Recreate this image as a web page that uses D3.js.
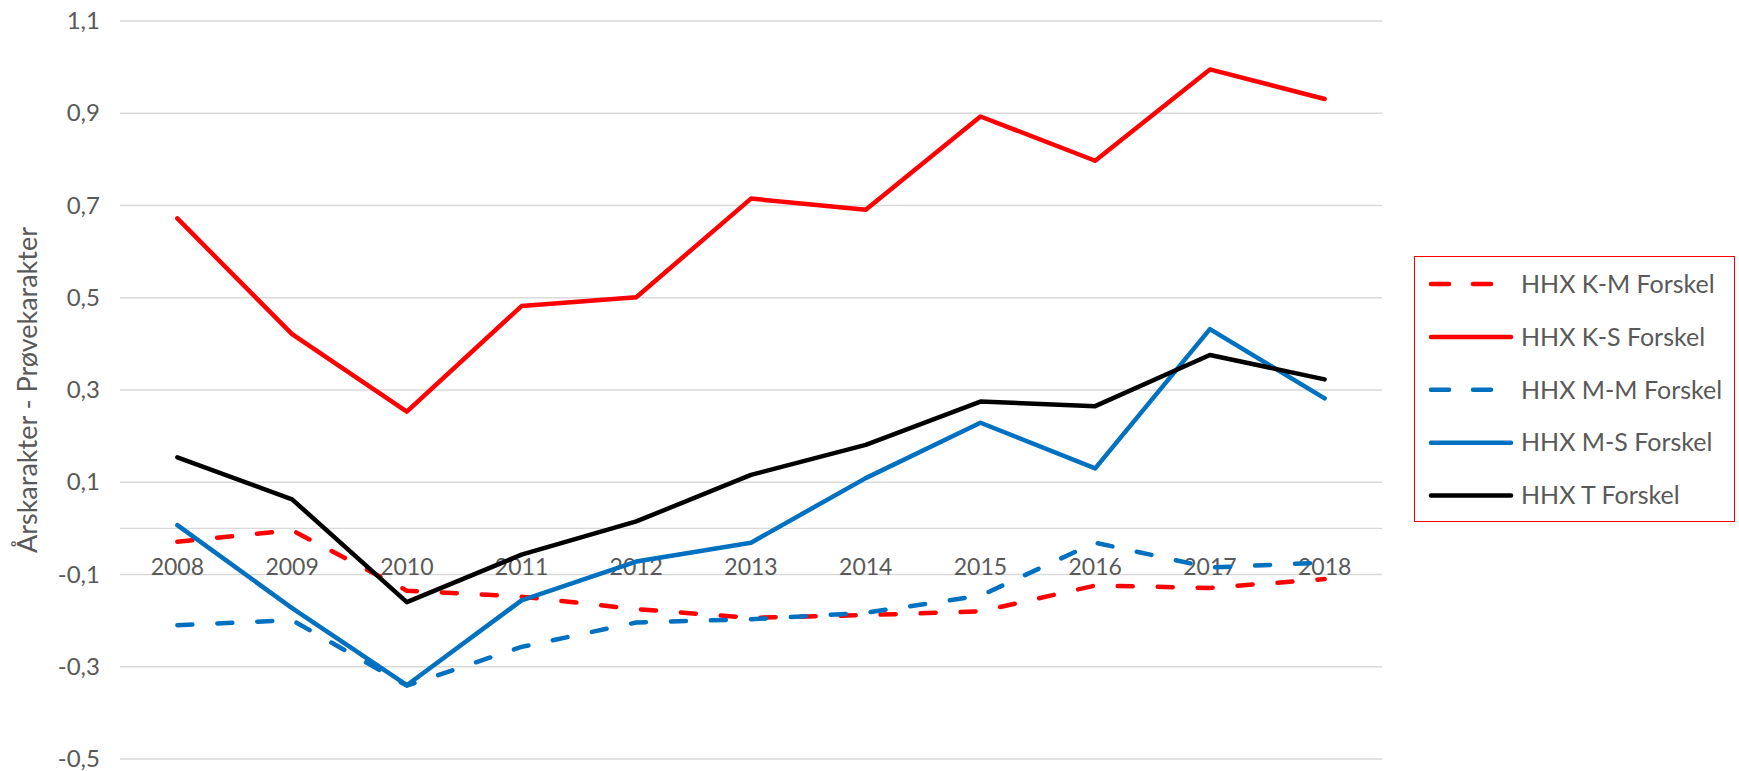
<!DOCTYPE html>
<html>
<head>
<meta charset="utf-8">
<script src="https://cdn.jsdelivr.net/npm/d3@7"></script>
<style>
  body { margin: 0; background: #fff; }
  text { font-family: Lato, "Open Sans", sans-serif; fill: #595959; }
</style>
</head>
<body>
<script>
const years = ['2008', '2009', '2010', '2011', '2012', '2013', '2014', '2015', '2016', '2017', '2018'];
const yTicks = [-0.5, -0.3, -0.1, 0.1, 0.3, 0.5, 0.7, 0.9, 1.1];

const kmForskel = [-0.029, -0.004, -0.135, -0.148, -0.175, -0.194, -0.188, -0.180, -0.124, -0.129, -0.110];
const ksForskel = [0.672, 0.421, 0.253, 0.482, 0.501, 0.715, 0.691, 0.893, 0.797, 0.995, 0.931];
const mmForskel = [-0.210, -0.199, -0.341, -0.257, -0.204, -0.197, -0.183, -0.146, -0.031, -0.085, -0.074];
const msForskel = [0.007, -0.173, -0.340, -0.156, -0.072, -0.031, 0.109, 0.229, 0.130, 0.432, 0.282];
const tForskel = [0.154, 0.063, -0.160, -0.057, 0.015, 0.116, 0.181, 0.275, 0.265, 0.376, 0.323];

const series = [
  { name: 'HHX K-M Forskel', values: kmForskel, color: '#FF0000', dash: true },
  { name: 'HHX K-S Forskel', values: ksForskel, color: '#FF0000', dash: false },
  { name: 'HHX M-M Forskel', values: mmForskel, color: '#0070C0', dash: true },
  { name: 'HHX M-S Forskel', values: msForskel, color: '#0070C0', dash: false },
  { name: 'HHX T Forskel', values: tForskel, color: '#000000', dash: false }
];

const width = 1739;
const height = 771;
const margin = { top: 21, right: 357, bottom: 12, left: 120 };

const x = d3.scaleBand()
  .domain(years)
  .range([margin.left, width - margin.right]);

const y = d3.scaleLinear()
  .domain([-0.5, 1.1])
  .range([height - margin.bottom, margin.top]);

const fmt = v => d3.format('.1f')(v).replace('.', ',').replace('−', '-');

const svg = d3.select('body')
  .append('svg')
  .attr('width', width)
  .attr('height', height);

// grid
svg.append('g')
  .selectAll('line')
  .data(yTicks)
  .join('line')
  .attr('x1', margin.left)
  .attr('x2', width - margin.right)
  .attr('y1', d => y(d))
  .attr('y2', d => y(d))
  .attr('stroke', '#D9D9D9')
  .attr('stroke-width', 1.3);

// category axis at zero
svg.append('line')
  .attr('x1', margin.left)
  .attr('x2', width - margin.right)
  .attr('y1', y(0))
  .attr('y2', y(0))
  .attr('stroke', '#D9D9D9')
  .attr('stroke-width', 1.3);

const yAxis = g => g
  .attr('transform', `translate(${margin.left - 20},0)`)
  .call(d3.axisLeft(y).tickValues(yTicks).tickFormat(fmt).tickSize(0).tickPadding(0))
  .call(g => g.select('.domain').remove())
  .call(g => g.selectAll('text').attr('font-size', 24).attr('font-family', null).attr('fill', '#595959'));

svg.append('g').call(yAxis);

const xAxis = g => g
  .attr('transform', `translate(0,${y(0)})`)
  .call(d3.axisBottom(x).tickSize(0).tickPadding(30))
  .call(g => g.select('.domain').remove())
  .call(g => g.selectAll('text').attr('font-size', 23).attr('font-family', null).attr('fill', '#595959'));

svg.append('g').call(xAxis);

svg.append('text')
  .attr('transform', `translate(37,${(y(-0.5) + y(1.1)) / 2}) rotate(-90)`)
  .attr('text-anchor', 'middle')
  .attr('font-size', 27)
  .text('Årskarakter - Prøvekarakter');

const line = d3.line()
  .x((d, i) => x(years[i]) + x.bandwidth() / 2)
  .y(d => y(d));

svg.append('g')
  .selectAll('path')
  .data(series)
  .join('path')
  .attr('fill', 'none')
  .attr('stroke', d => d.color)
  .attr('stroke-width', 4.5)
  .attr('stroke-linejoin', 'round')
  .attr('stroke-linecap', 'round')
  .attr('stroke-dasharray', d => d.dash ? '15 25' : null)
  .attr('d', d => line(d.values));

// legend
const legend = svg.append('g');

legend.append('rect')
  .attr('x', 1414.5)
  .attr('y', 256.5)
  .attr('width', 320)
  .attr('height', 265)
  .attr('fill', '#fff')
  .attr('stroke', '#FF0000')
  .attr('stroke-width', 1);

const item = legend.selectAll('g.item')
  .data(series)
  .join('g')
  .attr('class', 'item')
  .attr('transform', (d, i) => `translate(1429,${284 + i * 52.9})`);

item.append('line')
  .attr('x1', 2)
  .attr('x2', 82)
  .attr('stroke', d => d.color)
  .attr('stroke-width', 4.5)
  .attr('stroke-linecap', 'round')
  .attr('stroke-dasharray', d => d.dash ? '18 24' : null);

item.append('text')
  .attr('x', 92)
  .attr('dy', '0.35em')
  .attr('font-size', 25)
  .text(d => d.name);
</script>
</body>
</html>
